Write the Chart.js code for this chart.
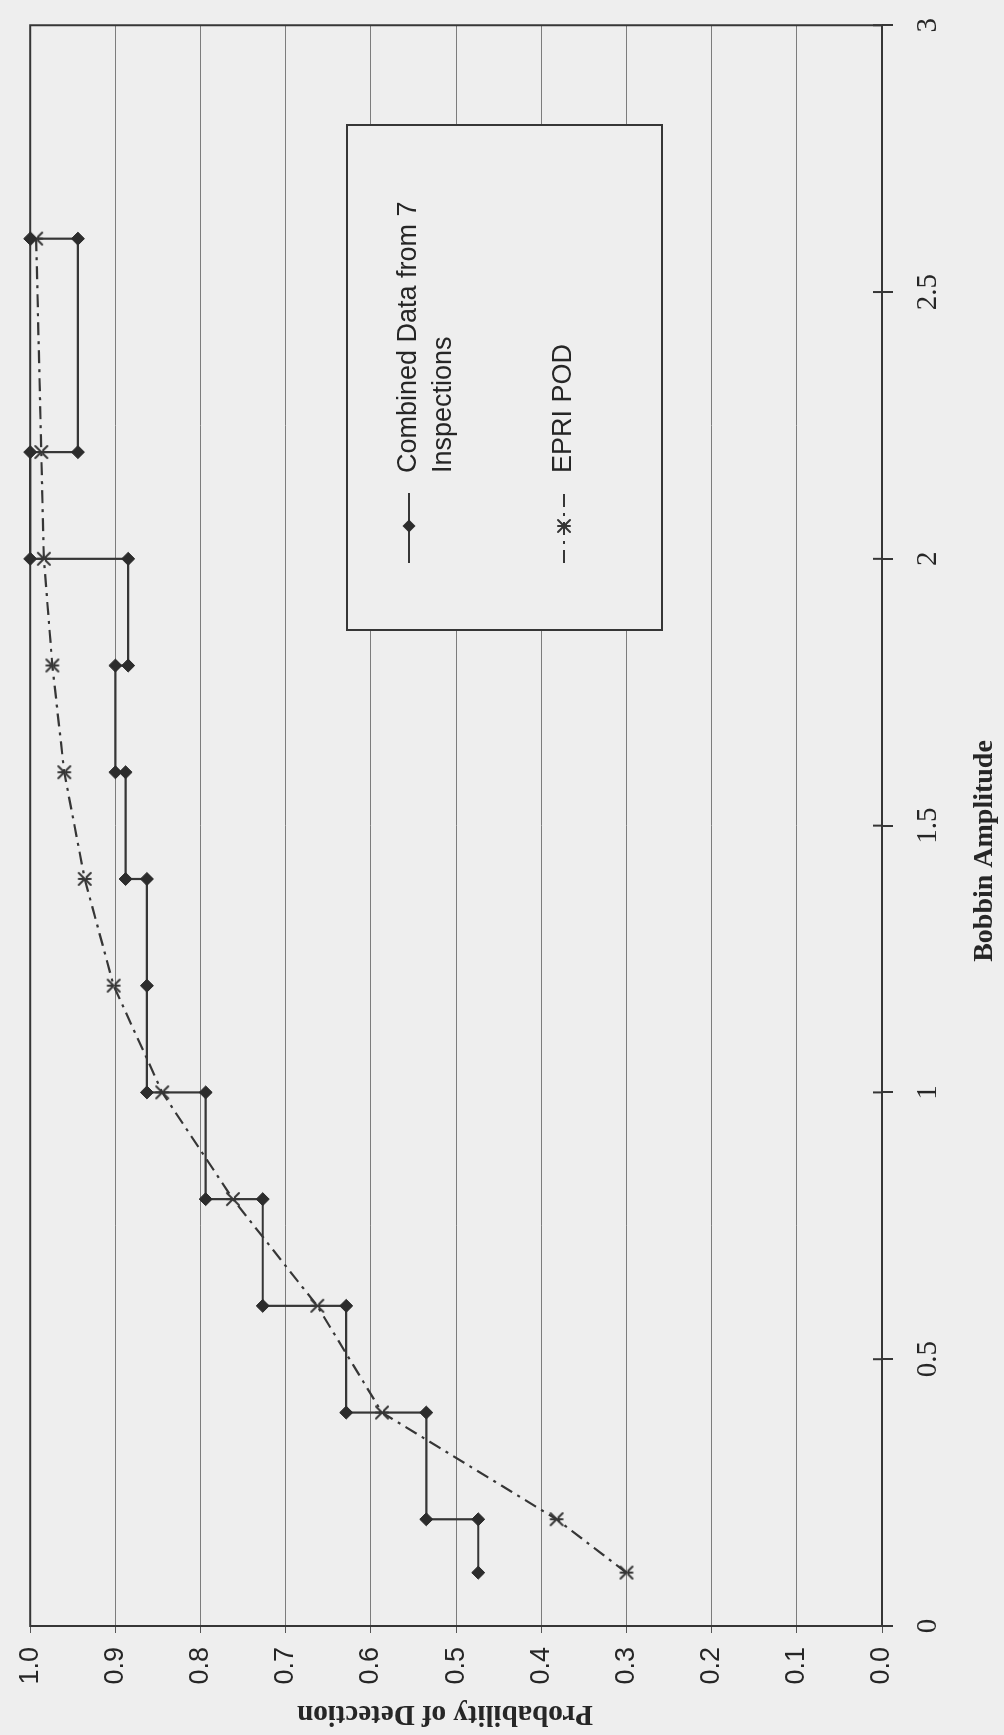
<!DOCTYPE html>
<html>
<head>
<meta charset="utf-8">
<script src="https://cdn.jsdelivr.net/npm/chart.js@4.4.1/dist/chart.umd.min.js"></script>
<style>
  html, body { margin: 0; padding: 0; width: 1004px; height: 1735px; overflow: hidden; background: #eeeeee; }
  /* The chart is laid out landscape and turned a quarter turn counter-clockwise onto the page */
  #frame { position: absolute; left: 0; top: 0; width: 1735px; height: 1004px;
           transform-origin: 0 0; transform: translate(0, 1735px) rotate(-90deg); }
  canvas { display: block; }
</style>
</head>
<body>
<div id="frame"><canvas id="pod" width="1735" height="1004" style="width:1735px;height:1004px"></canvas></div>
<script>
// Axis ticks
const ampTickValues = [0, 0.5, 1, 1.5, 2, 2.5, 3];
const ampTickLabels = ['0', '0.5', '1', '1.5', '2', '2.5', '3'];
const podTickValues = [0, 0.1, 0.2, 0.3, 0.4, 0.5, 0.6, 0.7, 0.8, 0.9, 1.0];
const podTickLabels = ['0.0', '0.1', '0.2', '0.3', '0.4', '0.5', '0.6', '0.7', '0.8', '0.9', '1.0'];

// Combined data from 7 inspections: vertices of the cumulative staircase
const combinedAmp = [0.1, 0.2, 0.2, 0.4, 0.4, 0.6, 0.6, 0.8, 0.8, 1.0, 1.0, 1.2,
                     1.4, 1.4, 1.6, 1.6, 1.8, 1.8, 2.0, 2.0, 2.2, 2.2, 2.6, 2.6];
const combinedPod = [0.474, 0.474, 0.535, 0.535, 0.629, 0.629, 0.727, 0.727, 0.794, 0.794, 0.863, 0.863,
                     0.863, 0.888, 0.888, 0.900, 0.900, 0.885, 0.885, 1.000, 1.000, 0.944, 0.944, 1.000];

// EPRI POD curve
const epriAmp = [0.1, 0.2, 0.4, 0.6, 0.8, 1.0, 1.2, 1.4, 1.6, 1.8, 2.0, 2.2, 2.6];
const epriPod = [0.300, 0.382, 0.587, 0.663, 0.762, 0.845, 0.902, 0.936, 0.960, 0.974, 0.984, 0.987, 0.993];

const seriesLabels = [['Combined Data from 7', 'Inspections'], ['EPRI POD']];
const ampTitle = 'Bobbin Amplitude';
const podTitle = 'Probability of Detection';

const INK = '#363636';
const PAPER = '#eeeeee';

// Asterisk-like marker (X with an upright bar)
function makeStar(r, lw, color) {
  const c = document.createElement('canvas');
  const s = Math.ceil(2 * r + lw + 2);
  c.width = s; c.height = s;
  const g = c.getContext('2d');
  const m = s / 2;
  g.strokeStyle = color; g.lineWidth = lw; g.lineCap = 'round';
  g.beginPath();
  g.moveTo(m - r, m - r); g.lineTo(m + r, m + r);
  g.moveTo(m + r, m - r); g.lineTo(m - r, m + r);
  g.moveTo(m, m - r); g.lineTo(m, m + r);
  g.stroke();
  return c;
}
const starMark = makeStar(6, 2, INK);

function drawMarker(ctx, style, r, x, y, color) {
  if (style instanceof HTMLCanvasElement) {
    ctx.drawImage(style, x - style.width / 2, y - style.height / 2);
    return;
  }
  ctx.save();
  ctx.fillStyle = color;
  ctx.beginPath();
  ctx.moveTo(x, y - r); ctx.lineTo(x + r, y); ctx.lineTo(x, y + r); ctx.lineTo(x - r, y);
  ctx.closePath();
  ctx.fill();
  ctx.restore();
}

const decor = {
  id: 'decor',
  beforeDraw(chart) {
    const ctx = chart.ctx;
    ctx.save();
    ctx.fillStyle = PAPER;
    ctx.fillRect(0, 0, chart.width, chart.height);
    ctx.restore();
  },
  beforeDatasetsDraw(chart) {
    const ctx = chart.ctx, a = chart.chartArea, xs = chart.scales.x;
    ctx.save();
    ctx.strokeStyle = INK;
    ctx.lineWidth = 2;
    ctx.strokeRect(a.left, a.top, a.right - a.left, a.bottom - a.top);
    // tick marks crossing into the plot on the amplitude axis
    ctx.beginPath();
    ampTickValues.forEach(v => {
      const px = xs.getPixelForValue(v);
      ctx.moveTo(px, a.bottom - 9);
      ctx.lineTo(px, a.bottom);
    });
    ctx.stroke();
    ctx.restore();
  },
  afterDraw(chart) {
    const ctx = chart.ctx;
    ctx.save();
    // legend box
    const box = { left: 1105, top: 347, width: 505, height: 315 };
    ctx.fillStyle = PAPER;
    ctx.fillRect(box.left, box.top, box.width, box.height);
    ctx.strokeStyle = INK;
    ctx.lineWidth = 2;
    ctx.strokeRect(box.left, box.top, box.width, box.height);
    const rows = [409, 564];
    ctx.font = '27px "Liberation Sans", Arial, sans-serif';
    ctx.textAlign = 'left';
    ctx.textBaseline = 'middle';
    seriesLabels.forEach((lines, i) => {
      const ds = chart.data.datasets[i];
      const cy = rows[i];
      ctx.save();
      ctx.strokeStyle = ds.borderColor;
      ctx.lineWidth = ds.borderWidth;
      ctx.setLineDash(ds.borderDash || []);
      ctx.beginPath();
      ctx.moveTo(1172, cy); ctx.lineTo(1242, cy);
      ctx.stroke();
      ctx.restore();
      drawMarker(ctx, ds.pointStyle, ds.pointRadius, 1209, cy, ds.pointBackgroundColor);
      ctx.fillStyle = '#262626';
      lines.forEach((t, j) => ctx.fillText(t, 1262, cy + j * 35));
    });
    // axis titles
    ctx.fillStyle = '#262626';
    ctx.font = 'bold 28px "Liberation Serif", "Times New Roman", serif';
    ctx.textAlign = 'center';
    ctx.textBaseline = 'alphabetic';
    ctx.fillText(ampTitle, 884, 992);
    ctx.translate(22, 445);
    ctx.rotate(-Math.PI / 2);
    ctx.font = 'bold 29px "Liberation Serif", "Times New Roman", serif';
    ctx.textBaseline = 'middle';
    ctx.fillText(podTitle, 0, 0);
    ctx.restore();
  }
};

new Chart(document.getElementById('pod'), {
  type: 'scatter',
  data: {
    datasets: [
      {
        label: seriesLabels[0].join(' '),
        data: combinedAmp.map((a, i) => ({ x: a, y: combinedPod[i] })),
        showLine: true,
        borderColor: INK,
        borderWidth: 2.2,
        tension: 0,
        pointStyle: 'rectRot',
        pointRadius: 6.5,
        pointBackgroundColor: '#2c2c2c',
        pointBorderColor: '#2c2c2c',
        pointBorderWidth: 1,
        clip: false
      },
      {
        label: seriesLabels[1].join(' '),
        data: epriAmp.map((a, i) => ({ x: a, y: epriPod[i] })),
        showLine: true,
        borderColor: INK,
        borderWidth: 2.2,
        borderDash: [13, 6, 3, 6],
        tension: 0,
        pointStyle: starMark,
        pointRadius: 7,
        pointBackgroundColor: INK,
        clip: false
      }
    ]
  },
  options: {
    responsive: false,
    animation: false,
    devicePixelRatio: 1,
    events: [],
    layout: { padding: { top: 24, right: 13, left: 0, bottom: 0 } },
    plugins: { legend: { display: false }, tooltip: { enabled: false } },
    scales: {
      x: {
        type: 'linear', min: 0, max: 3,
        afterBuildTicks: s => { s.ticks = ampTickValues.map(v => ({ value: v })); },
        afterFit: s => { s.height = 122; },
        ticks: {
          callback: (v, i) => ampTickLabels[i],
          font: { family: '"Liberation Serif", "Times New Roman", serif', size: 29 },
          color: '#262626', padding: 18, maxRotation: 0, autoSkip: false
        },
        grid: { drawOnChartArea: false, drawTicks: true, tickLength: 11, color: INK, lineWidth: 2 },
        border: { display: false }
      },
      y: {
        type: 'linear', min: 0, max: 1,
        afterBuildTicks: s => { s.ticks = podTickValues.map(v => ({ value: v })); },
        afterFit: s => { s.width = 109; },
        ticks: {
          callback: (v, i) => podTickLabels[i],
          font: { family: '"Liberation Sans", Arial, sans-serif', size: 27 },
          color: '#262626', padding: 14, autoSkip: false
        },
        grid: { color: '#7c7c7c', lineWidth: 1, tickLength: 7, tickColor: '#555555' },
        border: { display: false }
      }
    }
  },
  plugins: [decor]
});
</script>
</body>
</html>
